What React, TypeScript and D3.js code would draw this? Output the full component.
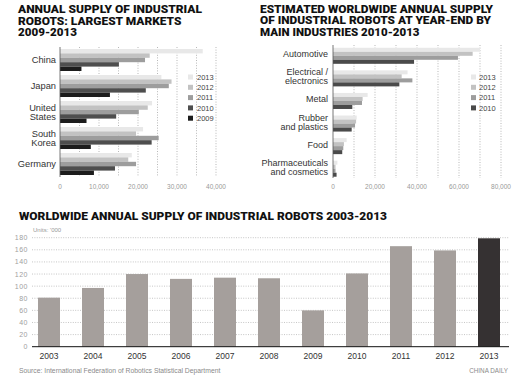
import React from "react";
import * as d3 from "d3";

// ---------- Data ----------
const marketCountries = ["China", "Japan", "United States", "South Korea", "Germany"];
const marketYears = ["2013", "2012", "2011", "2010", "2009"];
const market2013 = [36600, 26000, 23600, 21300, 18400];
const market2012 = [23000, 28600, 22500, 19500, 17500];
const market2011 = [21800, 27900, 20200, 25300, 19500];
const market2010 = [15100, 22000, 14400, 23500, 14100];
const market2009 = [5500, 12800, 6800, 7900, 8700];
const marketTicks = [0, 10000, 20000, 30000, 40000];

const industries = ["Automotive", "Electrical / electronics", "Metal", "Rubber and plastics", "Food", "Pharmaceuticals and cosmetics"];
const industryLabelLines = [["Automotive"], ["Electrical /", "electronics"], ["Metal"], ["Rubber", "and plastics"], ["Food"], ["Pharmaceuticals", "and cosmetics"]];
const industryYears = ["2013", "2012", "2011", "2010"];
const ind2013 = [70000, 35500, 16500, 11300, 6500, 2100];
const ind2012 = [66500, 32700, 14100, 11000, 5200, 1200];
const ind2011 = [59500, 37800, 13800, 10500, 4900, 1200];
const ind2010 = [38600, 31600, 9200, 8900, 4400, 1700];
const industryTicks = [0, 20000, 40000, 60000, 80000];

const supplyYears = ["2003", "2004", "2005", "2006", "2007", "2008", "2009", "2010", "2011", "2012", "2013"];
const supplyValues = [81, 97, 120, 112, 114, 113, 60, 121, 166, 159, 179];
const supplyTicks = [0, 20, 40, 60, 80, 100, 120, 140, 160, 180];

// ---------- Styles ----------
const TITLE_FONT = "Roboto, 'Liberation Sans', sans-serif";
const LABEL_FONT = "'Liberation Sans', Arial, sans-serif";
const marketColors = ["#e8e8e8", "#c2c2c2", "#9d9d9d", "#4e4e4e", "#1c1c1c"];
const industryColors = ["#e8e8e8", "#c2c2c2", "#9d9d9d", "#4a4a4a"];

function Title({ x, lines }: { x: number; lines: { t: string; y: number; w: number }[] }) {
  return (
    <g>
      {lines.map((l, i) => (
        <text key={i} x={x} y={l.y} fontFamily={TITLE_FONT} fontWeight={900} fontSize={11}
          fill="#111" textLength={l.w} lengthAdjust="spacingAndGlyphs">{l.t}</text>
      ))}
    </g>
  );
}

function MarketsChart() {
  const series = [market2013, market2012, market2011, market2010, market2009];
  const x = d3.scaleLinear().domain([0, 40000]).range([60, 216]);
  const y = d3.scaleBand<string>().domain(marketCountries).range([47, 177]).paddingInner(0.154).paddingOuter(0.077);
  const inner = d3.scaleBand<string>().domain(marketYears).range([0, y.bandwidth()]);
  const grid = d3.range(5000, 40001, 5000);
  return (
    <g>
      {grid.map((g) => (
        <line key={g} x1={x(g)} x2={x(g)} y1={47} y2={177} stroke="#9a9a9a" strokeWidth={0.7} strokeDasharray="1,1.6" />
      ))}
      {marketCountries.map((c, ci) => (
        <g key={c}>
          {series.map((s, si) => (
            <rect key={si} x={x(0)} y={(y(c) as number) + (inner(marketYears[si]) as number)}
              width={x(s[ci]) - x(0)} height={inner.bandwidth()} fill={marketColors[si]} />
          ))}
        </g>
      ))}
      <line x1={x(0)} x2={x(0)} y1={47} y2={177} stroke="#555" strokeWidth={0.8} />
      {marketCountries.map((c) => {
        const parts = c === "United States" ? ["United", "States"] : c === "South Korea" ? ["South", "Korea"] : [c];
        const cy = (y(c) as number) + y.bandwidth() / 2;
        return (
          <text key={c} x={56} textAnchor="end" fontFamily={LABEL_FONT} fontSize={9.3} fill="#333">
            {parts.map((p, i) => (
              <tspan key={i} x={56} y={cy + 3 + (i - (parts.length - 1) / 2) * 9}>{p}</tspan>
            ))}
          </text>
        );
      })}
      {marketTicks.map((t) => (
        <text key={t} x={x(t)} y={189} textAnchor="middle" fontFamily={LABEL_FONT} fontSize={6.5} fill="#999">
          {d3.format(",")(t)}
        </text>
      ))}
      {marketYears.map((yr, i) => (
        <g key={yr}>
          <rect x={188} y={74.5 + i * 10.3} width={5} height={5} fill={marketColors[i]} />
          <text x={197} y={79.8 + i * 10.3} fontFamily={LABEL_FONT} fontSize={7.5} fill="#444">{yr}</text>
        </g>
      ))}
    </g>
  );
}

function IndustriesChart() {
  const series = [ind2013, ind2012, ind2011, ind2010];
  const x = d3.scaleLinear().domain([0, 80000]).range([333, 501]);
  const y = d3.scaleBand<string>().domain(industries).range([44.5, 180]).paddingInner(0.29).paddingOuter(0.145);
  const inner = d3.scaleBand<string>().domain(industryYears).range([0, y.bandwidth()]);
  const grid = d3.range(10000, 80001, 10000);
  return (
    <g>
      {grid.map((g) => (
        <line key={g} x1={x(g)} x2={x(g)} y1={45} y2={178} stroke="#9a9a9a" strokeWidth={0.7} strokeDasharray="1,1.6" />
      ))}
      {industries.map((c, ci) => (
        <g key={c}>
          {series.map((s, si) => (
            <rect key={si} x={x(0)} y={(y(c) as number) + (inner(industryYears[si]) as number)}
              width={x(s[ci]) - x(0)} height={inner.bandwidth()} fill={industryColors[si]} />
          ))}
        </g>
      ))}
      <line x1={x(0)} x2={x(0)} y1={45} y2={178} stroke="#555" strokeWidth={0.8} />
      {industries.map((c, ci) => {
        const parts = industryLabelLines[ci];
        const cy = (y(c) as number) + y.bandwidth() / 2;
        return (
          <text key={c} x={328} textAnchor="end" fontFamily={LABEL_FONT} fontSize={9} fill="#333">
            {parts.map((p, i) => (
              <tspan key={i} x={328} y={cy + 1.5 + (i - (parts.length - 1) / 2) * 9}>{p}</tspan>
            ))}
          </text>
        );
      })}
      {industryTicks.map((t) => (
        <text key={t} x={x(t)} y={189} textAnchor="middle" fontFamily={LABEL_FONT} fontSize={6.5} fill="#999">
          {d3.format(",")(t)}
        </text>
      ))}
      {industryYears.map((yr, i) => (
        <g key={yr}>
          <rect x={471} y={74.5 + i * 10.3} width={5} height={5} fill={industryColors[i]} />
          <text x={479} y={79.8 + i * 10.3} fontFamily={LABEL_FONT} fontSize={7.5} fill="#444">{yr}</text>
        </g>
      ))}
    </g>
  );
}

function SupplyChart() {
  const x = d3.scaleBand<string>().domain(supplyYears).range([27, 511]).paddingInner(0.5).paddingOuter(0.25);
  const y = d3.scaleLinear().domain([0, 180]).range([346.7, 237.7]);
  return (
    <g>
      {supplyTicks.filter((t) => t > 0).map((t) => (
        <line key={t} x1={32} x2={509} y1={y(t)} y2={y(t)} stroke="#a0a0a0" strokeWidth={0.6} strokeDasharray="1,1.4" />
      ))}
      {supplyTicks.map((t) => (
        <text key={t} x={28} y={y(t) + 2.5} textAnchor="end" fontFamily={LABEL_FONT} fontSize={7}
          letterSpacing={0.5} fill="#a0a0a0">{t}</text>
      ))}
      <text x={33} y={232} fontFamily={LABEL_FONT} fontSize={6} fill="#999">Units: '000</text>
      {supplyYears.map((yr, i) => (
        <rect key={yr} x={x(yr)} y={y(supplyValues[i])} width={x.bandwidth()} height={y(0) - y(supplyValues[i])}
          fill={yr === "2013" ? "#353132" : "#a59f9c"} />
      ))}
      <line x1={32} x2={509} y1={y(0)} y2={y(0)} stroke="#111" strokeWidth={1} />
      {supplyYears.map((yr) => (
        <text key={yr} x={(x(yr) as number) + x.bandwidth() / 2} y={358.8} textAnchor="middle"
          fontFamily={LABEL_FONT} fontSize={8.5} fill="#333">{yr}</text>
      ))}
    </g>
  );
}

export default function App() {
  return (
    <svg width={520} height={376} viewBox="0 0 520 376"
      style={{ position: "absolute", left: 0, top: 0, background: "#fff", display: "block" }}>
      <rect width={520} height={376} fill="#fff" />
      <Title x={18} lines={[
        { t: "ANNUAL SUPPLY OF INDUSTRIAL", y: 12.8, w: 184 },
        { t: "ROBOTS: LARGEST MARKETS", y: 24.6, w: 163.5 },
        { t: "2009-2013", y: 36.4, w: 59 },
      ]} />
      <Title x={260} lines={[
        { t: "ESTIMATED WORLDWIDE ANNUAL SUPPLY", y: 12.6, w: 233 },
        { t: "OF INDUSTRIAL ROBOTS AT YEAR-END BY", y: 24.4, w: 231 },
        { t: "MAIN INDUSTRIES 2010-2013", y: 36.2, w: 159.5 },
      ]} />
      <Title x={19} lines={[
        { t: "WORLDWIDE ANNUAL SUPPLY OF INDUSTRIAL ROBOTS 2003-2013", y: 220.3, w: 368 },
      ]} />
      <MarketsChart />
      <IndustriesChart />
      <SupplyChart />
      <text x={19} y={373} fontFamily={LABEL_FONT} fontSize={6.8} fill="#8a8a8a">
        Source: International Federation of Robotics Statistical Department
      </text>
      <text x={508} y={373} textAnchor="end" fontFamily={LABEL_FONT} fontSize={6.3} fill="#8a8a8a">CHINA DAILY</text>
    </svg>
  );
}
